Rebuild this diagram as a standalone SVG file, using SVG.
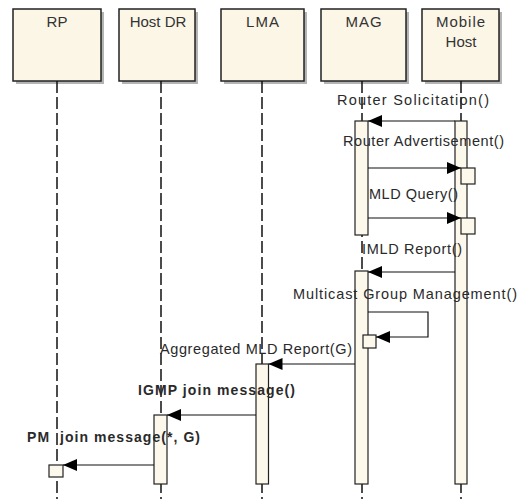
<svg xmlns="http://www.w3.org/2000/svg" width="522" height="499" viewBox="0 0 522 499">
<style>
.shadow{fill:#b4b4b4}
.box{fill:#fcf6e6;stroke:#222;stroke-width:1.5}
.title{font-family:"Liberation Sans",Arial,sans-serif;font-size:15px;fill:#333;text-anchor:middle}
.life{stroke:#111;stroke-width:1.5;stroke-dasharray:12 4;fill:none}
.bar{fill:#fdf8ec;stroke:#222;stroke-width:1.2}
.msg{stroke:#111;stroke-width:1.2;fill:none}
.lbl{font-family:"Liberation Sans",Arial,sans-serif;font-size:14.5px;fill:#2a2a2a}
.bold{font-weight:bold;font-size:14px}
</style>
<defs>
<marker id="ah" viewBox="0 0 14 12" refX="14" refY="6" markerWidth="14" markerHeight="12" markerUnits="userSpaceOnUse" orient="auto">
<path d="M0,0 L14,6 L0,12 Z" fill="#000"/>
</marker>
</defs>
<rect width="522" height="499" fill="#fff"/>

<g id="RP">
<rect class="shadow" x="16" y="12" width="88" height="72"/>
<rect class="box" x="13" y="9" width="88" height="72"/>
<text class="title" x="57" y="27">RP</text>
<line class="life" x1="57" y1="81" x2="57" y2="499"/>
<rect class="bar" x="49" y="465" width="14" height="12"/>
</g>

<g id="HostDR">
<rect class="shadow" x="122" y="12" width="76" height="72"/>
<rect class="box" x="119" y="9" width="76" height="72"/>
<text class="title" x="158" y="27">Host DR</text>
<line class="life" x1="161" y1="81" x2="161" y2="499"/>
<rect class="bar" x="154" y="415" width="13" height="69"/>
</g>

<g id="LMA">
<rect class="shadow" x="224" y="12" width="83" height="72"/>
<rect class="box" x="221" y="9" width="83" height="72"/>
<text class="title" x="263" y="27" letter-spacing="1">LMA</text>
<line class="life" x1="262" y1="81" x2="262" y2="499"/>
<rect class="bar" x="256" y="364" width="12.5" height="120"/>
</g>

<g id="MAG">
<rect class="shadow" x="324" y="12" width="85" height="72"/>
<rect class="box" x="321" y="9" width="85" height="72"/>
<text class="title" x="364" y="27" letter-spacing="1">MAG</text>
<line class="life" x1="362" y1="81" x2="362" y2="499"/>
<rect class="bar" x="355" y="121" width="13" height="114"/>
<rect class="bar" x="355" y="271" width="13" height="213"/>
<rect class="bar" x="363" y="335" width="13" height="13"/>
</g>

<g id="MobileHost">
<rect class="shadow" x="425" y="12" width="77" height="72"/>
<rect class="box" x="422" y="9" width="77" height="72"/>
<text class="title" x="461" y="27" letter-spacing="1">Mobile</text>
<text class="title" x="461" y="47">Host</text>
<line class="life" x1="461" y1="81" x2="461" y2="499"/>
<rect class="bar" x="455" y="121" width="12" height="363" fill="#fcf1e4"/>
<rect class="bar" x="461" y="168" width="14" height="16"/>
<rect class="bar" x="461" y="218" width="14" height="16"/>
</g>

<g id="connectors">
<line class="msg" x1="455" y1="121" x2="368" y2="121" marker-end="url(#ah)"/>
<line class="msg" x1="368" y1="168" x2="461" y2="168" marker-end="url(#ah)"/>
<line class="msg" x1="368" y1="218" x2="461" y2="218" marker-end="url(#ah)"/>
<line class="msg" x1="455" y1="272" x2="368" y2="272" marker-end="url(#ah)"/>
<polyline class="msg" points="368,312 428,312 428,337 376,337" marker-end="url(#ah)"/>
<line class="msg" x1="355" y1="364" x2="268.5" y2="364" marker-end="url(#ah)"/>
<line class="msg" x1="256" y1="415" x2="167" y2="415" marker-end="url(#ah)"/>
<line class="msg" x1="154" y1="465" x2="63" y2="465" marker-end="url(#ah)"/>
</g>

<g id="labels">
<text class="lbl" x="337" y="105" textLength="152" lengthAdjust="spacing">Router Solicitation()</text>
<text class="lbl" x="343" y="146" textLength="161" lengthAdjust="spacing">Router Advertisement()</text>
<text class="lbl" x="369" y="199" textLength="89" lengthAdjust="spacing">MLD Query()</text>
<text class="lbl" x="362" y="254" textLength="100" lengthAdjust="spacing">IMLD Report()</text>
<text class="lbl" x="293" y="299" textLength="224" lengthAdjust="spacing">Multicast Group Management()</text>
<text class="lbl" x="160" y="354" textLength="192" lengthAdjust="spacing">Aggregated MLD Report(G)</text>
<text class="lbl bold" x="138" y="395" textLength="157" lengthAdjust="spacing">IGMP join message()</text>
<text class="lbl bold" x="27" y="442" textLength="173" lengthAdjust="spacing" xml:space="preserve">PM  join message(*, G)</text>
</g>
</svg>
